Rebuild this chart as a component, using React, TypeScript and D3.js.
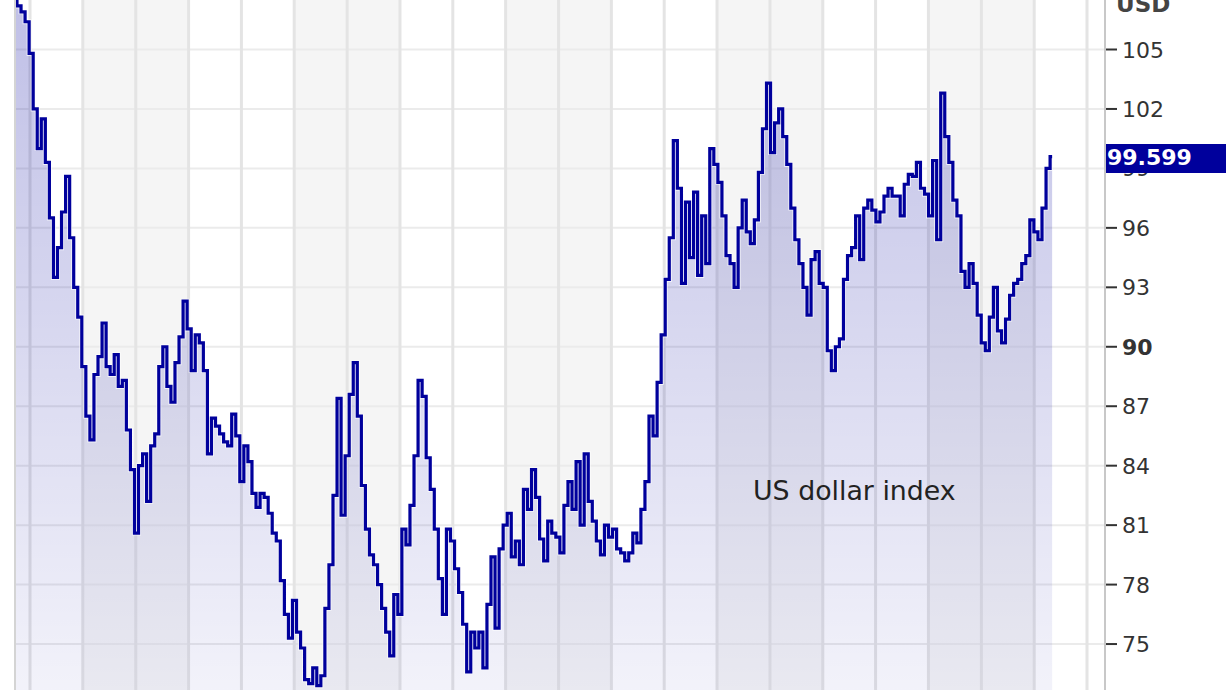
import React from "react";
import * as d3 from "d3";

// ---- data ----
const seriesName = "US dollar index";
const currency = "USD";
const startDate = "2002-09-19";
const stepDays = 28;
const lastValue = 99.599;
const yTicks = [72, 75, 78, 81, 84, 87, 90, 93, 96, 99, 102, 105];
const boldTick = 90;
const values = [
  107.6, 107.2, 106.9, 106.4, 104.8, 102.0, 100.0, 101.5, 99.3, 96.5,
  93.5, 95.0, 96.8, 98.6, 95.5, 93.0, 91.5, 89.0, 86.5, 85.3,
  88.6, 89.5, 91.2, 89.0, 88.6, 89.6, 88.0, 88.3, 85.8, 83.8,
  80.6, 84.0, 84.6, 82.2, 85.0, 85.6, 89.0, 90.0, 88.0, 87.2,
  89.2, 90.5, 92.3, 90.9, 88.8, 90.6, 90.2, 88.8, 84.6, 86.4,
  86.0, 85.6, 85.2, 85.0, 86.6, 85.5, 83.2, 85.0, 84.2, 82.6,
  81.9, 82.6, 82.4, 81.6, 80.6, 80.2, 78.2, 76.5, 75.3, 77.2,
  75.6, 74.8, 73.2, 73.0, 73.8, 72.9, 73.4, 76.8, 79.0, 82.5,
  87.4, 81.5, 84.5, 87.6, 89.2, 86.5, 83.0, 80.8, 79.5, 79.0,
  78.0, 76.8, 75.6, 74.4, 77.5, 76.5, 80.8, 80.0, 82.0, 84.5,
  88.3, 87.5, 84.4, 82.8, 80.8, 78.3, 76.5, 80.8, 80.2, 78.8,
  77.6, 76.0, 73.6, 75.6, 74.8, 75.6, 73.8, 77.0, 79.4, 75.8,
  79.8, 81.0, 81.6, 79.4, 80.2, 79.0, 82.8, 81.8, 83.8, 82.4,
  80.3, 79.2, 81.2, 80.6, 80.4, 79.6, 82.0, 83.2, 81.8, 84.2,
  81.0, 84.6, 82.2, 81.2, 80.2, 79.5, 81.0, 80.4, 80.8, 79.8,
  79.6, 79.2, 79.6, 80.6, 80.1, 81.8, 83.2, 86.5, 85.5, 88.2,
  90.6, 93.4, 95.5, 100.4, 98.0, 93.2, 97.3, 94.5, 97.8, 93.6,
  96.6, 94.2, 100.0, 99.2, 98.3, 96.6, 94.6, 94.2, 93.0, 96.0,
  97.4, 95.8, 95.2, 96.4, 98.8, 101.0, 103.3, 99.8, 101.3, 102.0,
  100.6, 99.2, 97.0, 95.4, 94.2, 93.0, 91.6, 94.4, 94.8, 93.2,
  93.0, 89.8, 88.8, 90.0, 90.4, 93.4, 94.6, 95.0, 96.6, 94.4,
  97.0, 97.4, 96.9, 96.3, 96.8, 97.6, 98.0, 97.6, 97.6, 96.6,
  98.2, 98.7, 98.6, 99.3, 98.0, 97.7, 96.6, 99.4, 95.4, 102.8,
  100.6, 99.3, 97.4, 96.6, 93.8, 93.0, 94.2, 93.2, 91.6, 90.2,
  89.8, 91.5, 93.0, 90.8, 90.2, 91.4, 92.6, 93.2, 93.4, 94.2,
  94.6, 96.4, 95.8, 95.4, 97.0, 99.0, 99.599,
];

const W = 1226;
const H = 690;
const plotLeft = 15;
const axisX = 1105;

export default function App() {
  const parse = d3.timeParse("%Y-%m-%d");
  const t0 = parse(startDate) as Date;
  const data = values.map((v, i) => ({ date: d3.timeDay.offset(t0, i * stepDays), v }));

  const x = d3
    .scaleTime()
    .domain([new Date(2003, 0, 1), new Date(2023, 0, 1)])
    .range([30, 1087]);
  const y = d3.scaleLinear().domain([72, 105]).range([703.5, 49.5]);

  const years = d3.timeYear.range(new Date(2001, 0, 1), new Date(2025, 0, 1));
  const gridYears = years.filter((d) => x(d) > plotLeft && x(d) < axisX);
  const bandYears = years.filter((d) => (d.getFullYear() - 2004) % 4 === 0);

  const line = d3
    .line<{ date: Date; v: number }>()
    .x((d) => x(d.date))
    .y((d) => y(d.v))
    .curve(d3.curveStep);
  const area = d3
    .area<{ date: Date; v: number }>()
    .x((d) => x(d.date))
    .y0(H + 20)
    .y1((d) => y(d.v))
    .curve(d3.curveStep);

  const lineColor = "#00009c";

  return (
    <svg
      width={W}
      height={H}
      style={{ position: "absolute", left: 0, top: 0, background: "#fff" }}
    >
      <defs>
        <linearGradient id="fillGrad" gradientUnits="userSpaceOnUse" x1="0" y1="0" x2="0" y2={H}>
          <stop offset="0" stopColor={lineColor} stopOpacity={0.25} />
          <stop offset="1" stopColor={lineColor} stopOpacity={0.05} />
        </linearGradient>
        <clipPath id="plotClip">
          <rect x={plotLeft} y={-50} width={axisX - plotLeft} height={H + 100} />
        </clipPath>
      </defs>
      <rect x={0} y={0} width={W} height={H} fill="#fff" />
      <g clipPath="url(#plotClip)">
        {bandYears.map((d, i) => {
          const x0 = x(d);
          const x1 = x(d3.timeYear.offset(d, 2));
          return <rect key={i} x={x0} y={0} width={x1 - x0} height={H} fill="#f5f5f5" />;
        })}
        {yTicks.map((t) => (
          <line key={t} x1={plotLeft} x2={axisX} y1={y(t)} y2={y(t)} stroke="#ebebeb" strokeWidth={2} />
        ))}
        {gridYears.map((d, i) => (
          <line key={i} x1={x(d)} x2={x(d)} y1={0} y2={H} stroke="#e4e4e4" strokeWidth={3} />
        ))}
        <path d={area(data) || ""} fill="url(#fillGrad)" />
        <path d={line(data) || ""} fill="none" stroke="#ffffff" strokeOpacity={0.7} strokeWidth={5} />
        <path d={line(data) || ""} fill="none" stroke={lineColor} strokeWidth={3.2} />
      </g>
      <line x1={plotLeft} x2={plotLeft} y1={0} y2={H} stroke="#d4d4d4" strokeWidth={2} />
      <line x1={axisX} x2={axisX} y1={0} y2={H} stroke="#c8c8c8" strokeWidth={2} />
      {yTicks.map((t) => (
        <g key={t}>
          <line x1={axisX + 1} x2={1117} y1={y(t)} y2={y(t)} stroke="#333" strokeWidth={2} />
          <text
            x={1122}
            y={y(t) + 2}
            dominantBaseline="middle"
            fontFamily="DejaVu Sans"
            fontSize={22}
            fontWeight={t === boldTick ? "bold" : "normal"}
            fill="#333"
          >
            {t}
          </text>
        </g>
      ))}
      <text x={1116} y={12} fontFamily="DejaVu Sans" fontWeight="bold" fontSize={23} fill="#444">
        {currency}
      </text>
      <rect x={axisX + 1} y={144} width={W - axisX} height={29} fill="#00009c" />
      <text
        x={1107}
        y={159}
        dominantBaseline="middle"
        fontFamily="DejaVu Sans"
        fontWeight="bold"
        fontSize={22}
        fill="#fff"
      >
        {lastValue.toFixed(3)}
      </text>
      <text x={753} y={500} fontFamily="DejaVu Sans" fontSize={26.8} fill="#222">
        {seriesName}
      </text>
    </svg>
  );
}
